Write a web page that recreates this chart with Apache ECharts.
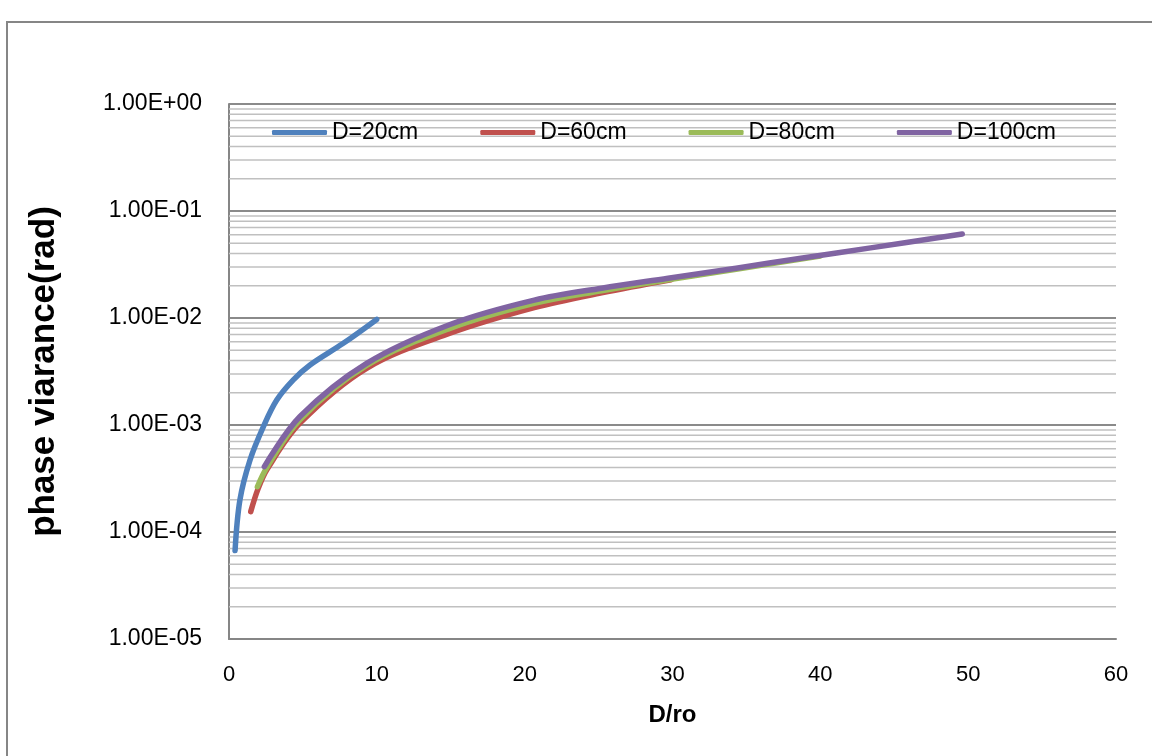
<!DOCTYPE html>
<html><head><meta charset="utf-8">
<script src="https://cdn.jsdelivr.net/npm/echarts@6/dist/echarts.min.js"></script>
<style>html,body{margin:0;padding:0;background:#fff}#c{width:1152px;height:756px}</style>
</head><body><div id="c"></div>
<script>
const seriesNames = ['D=20cm', 'D=60cm', 'D=80cm', 'D=100cm'];
const seriesColors = ['#4F81BD', '#C0504D', '#9BBB59', '#8064A2'];
// [D/ro, phase variance]
const d20 = [[0.41,6.7e-5],[0.74,2.0e-4],[1.42,4.7e-4],[2.32,9.6e-4],[3.23,1.71e-3],[4.35,2.64e-3],[5.48,3.64e-3],[7.73,5.8e-3],[9.99,9.7e-3]];
const d60 = [[1.47,1.55e-4],[1.98,2.56e-4],[2.6,3.9e-4],[4.8,1.04e-3],[9.31,3.39e-3],[14.95,7.2e-3],[20.65,1.25e-2],[25.2,1.72e-2],[29.9,2.28e-2]];
const d80 = [[1.92,2.65e-4],[2.6,4.1e-4],[4.8,1.12e-3],[9.31,3.6e-3],[14.95,8.0e-3],[20.65,1.37e-2],[25.2,1.8e-2],[29.7,2.28e-2],[34.3,2.85e-2],[40,3.8e-2]];
const d100 = [[2.39,4.08e-4],[4.8,1.2e-3],[9.31,3.77e-3],[14.95,8.7e-3],[20.65,1.47e-2],[25.2,1.9e-2],[29.7,2.35e-2],[34.3,2.92e-2],[38.8,3.64e-2],[43.4,4.52e-2],[49.6,6.1e-2]];
const allData = [d20, d60, d80, d100];
const xMin = 0, xMax = 60, xStep = 10;
const yTickLabels = ['1.00E-05','1.00E-04','1.00E-03','1.00E-02','1.00E-01','1.00E+00'];
const decadeExps = [-5, -4, -3, -2, -1];
const minorMultipliers = [2, 3, 4, 5, 6, 7, 8, 9];
const xTitle = 'D/ro';
const yTitle = 'phase viarance(rad)';

const FONT = '"Liberation Sans", Arial, sans-serif';
const minorValues = [];
decadeExps.forEach(e => minorMultipliers.forEach(m => minorValues.push(m * Math.pow(10, e))));

const chart = echarts.init(document.getElementById('c'), null, {renderer: 'canvas'});
const series = [];
minorValues.forEach((v, k) => {
  series.push({
    name: '_minor' + k, type: 'line', data: [[xMin, v], [xMax, v]], z: 1, silent: true,
    showSymbol: false, symbol: 'none',
    lineStyle: {color: '#c0c0c0', width: 1.5},
    emphasis: {disabled: true}, tooltip: {show: false}
  });
});
allData.forEach((d, i) => {
  series.push({
    name: seriesNames[i], type: 'line', data: d, smooth: 0.35,
    showSymbol: false, symbol: 'none', z: 3 + i,
    lineStyle: {color: seriesColors[i], width: 5.5, cap: 'round', join: 'round'},
    itemStyle: {color: seriesColors[i]}
  });
});

chart.setOption({
  animation: false,
  backgroundColor: '#ffffff',
  textStyle: {fontFamily: FONT},
  graphic: [{
    type: 'rect', shape: {x: 7, y: 22, width: 1200, height: 800},
    style: {fill: 'none', stroke: '#868686', lineWidth: 2}, silent: true, z: -1
  }],
  grid: {left: 229, right: 36, top: 104, bottom: 117},
  legend: {
    data: seriesNames, left: 272, top: 121, orient: 'horizontal', padding: 0,
    icon: 'roundRect', itemWidth: 55, itemHeight: 5, itemGap: 62,
    textStyle: {fontFamily: FONT, fontSize: 23, color: '#000'},
    selectedMode: false
  },
  xAxis: {
    type: 'value', min: xMin, max: xMax, interval: xStep,
    name: xTitle, nameLocation: 'middle', nameGap: 64,
    nameTextStyle: {fontFamily: FONT, fontSize: 24, fontWeight: 'bold', color: '#000'},
    axisLine: {onZero: false, lineStyle: {color: '#868686', width: 2}},
    axisTick: {show: false},
    axisLabel: {fontFamily: FONT, fontSize: 22, color: '#000', margin: 25},
    splitLine: {show: false}
  },
  yAxis: {
    type: 'log', logBase: 10, min: 1e-5, max: 1,
    name: yTitle, nameLocation: 'middle', nameGap: 167, nameRotate: 90,
    nameTextStyle: {fontFamily: FONT, fontSize: 35, fontWeight: 'bold', color: '#000'},
    axisLine: {show: true, lineStyle: {color: '#868686', width: 2}},
    axisTick: {show: false},
    axisLabel: {
      fontFamily: FONT, fontSize: 23, color: '#000', margin: 27,
      formatter: v => yTickLabels[Math.round(Math.log10(v)) + 5]
    },
    splitLine: {show: true, lineStyle: {color: '#8a8a8a', width: 2}}
  },
  series: series
});
</script>
</body></html>
